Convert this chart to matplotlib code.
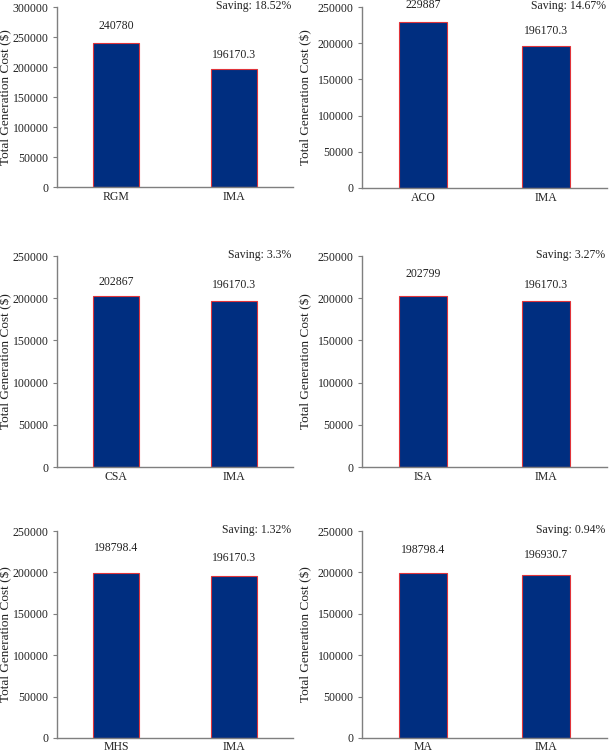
import matplotlib
matplotlib.use('Agg')
import matplotlib.pyplot as plt

# data for each panel
methods = ['RGM', 'ACO', 'CSA', 'ISA', 'MHS', 'MA']
method_costs = [240780, 229887, 202867, 202799, 198798.4, 198798.4]
ima_costs = [196170.3, 196170.3, 196170.3, 196170.3, 196170.3, 196930.7]
value_labels = [('240780', '196170.3'), ('229887', '196170.3'), ('202867', '196170.3'),
                ('202799', '196170.3'), ('198798.4', '196170.3'), ('198798.4', '196930.7')]
savings = ['Saving: 18.52%', 'Saving: 14.67%', 'Saving: 3.3%',
           'Saving: 3.27%', 'Saving: 1.32%', 'Saving: 0.94%']
y_max = [300000, 250000, 250000, 250000, 250000, 250000]

# layout (pixels) - left, right, top, bottom of each axes
W, H = 609, 754
boxes = [(57, 293, 7, 187), (362, 607, 7, 188),
         (57, 293, 256, 467), (362, 607, 256, 467),
         (57, 293, 531, 738), (362, 607, 531, 738)]
label_off = [(12, 10), (12, 11), (10, 12), (16, 12), (18, 13), (17, 14)]
ylabel_x = [12, 312, 12, 312, 12, 312]

plt.rcParams['font.family'] = 'Liberation Serif'
plt.rcParams['font.size'] = 8.5
txt_color = '#222222'
spine_color = '#7f7f7f'

fig = plt.figure(figsize=(W / 100, H / 100), dpi=100)

for i in range(6):
    l, r, t, b = boxes[i]
    ax = fig.add_axes([l / W, 1 - b / H, (r - l) / W, (b - t) / H])
    vals = [method_costs[i], ima_costs[i]]
    bars = ax.bar([0, 1], vals, width=0.39, color='#002e80', edgecolor='#e0343a', linewidth=0.8)
    ax.set_xlim(-0.5, 1.5)
    ax.set_ylim(0, y_max[i])
    ax.set_yticks(range(0, y_max[i] + 1, 50000))
    ax.set_xticks([0, 1])
    ax.set_xticklabels([methods[i], 'IMA'])
    ax.tick_params(axis='x', length=0, pad=2 if i >= 4 else 3, colors=txt_color)
    ax.tick_params(axis='y', length=3, width=0.8, pad=3, colors=txt_color, color=spine_color)
    for s in ['top', 'right']:
        ax.spines[s].set_visible(False)
    for s in ['left', 'bottom']:
        ax.spines[s].set_color(spine_color)
        ax.spines[s].set_linewidth(1.0)
    ax.set_ylabel('Total Generation Cost ($)', color=txt_color, fontsize=9.5)
    ax.yaxis.set_label_coords((ylabel_x[i] - l) / (r - l), 0.5)
    for j, bar in enumerate(bars):
        ax.annotate(value_labels[i][j], (bar.get_x() + bar.get_width() / 2, bar.get_height()),
                    xytext=(0, label_off[i][j]), textcoords='offset points',
                    ha='center', va='center', color=txt_color, annotation_clip=False)
    ax.annotate(savings[i], (1, 1), xycoords='axes fraction', xytext=(-1, 1),
                textcoords='offset points', ha='right', va='center', color=txt_color)

fig.savefig('out.png', dpi=100)
